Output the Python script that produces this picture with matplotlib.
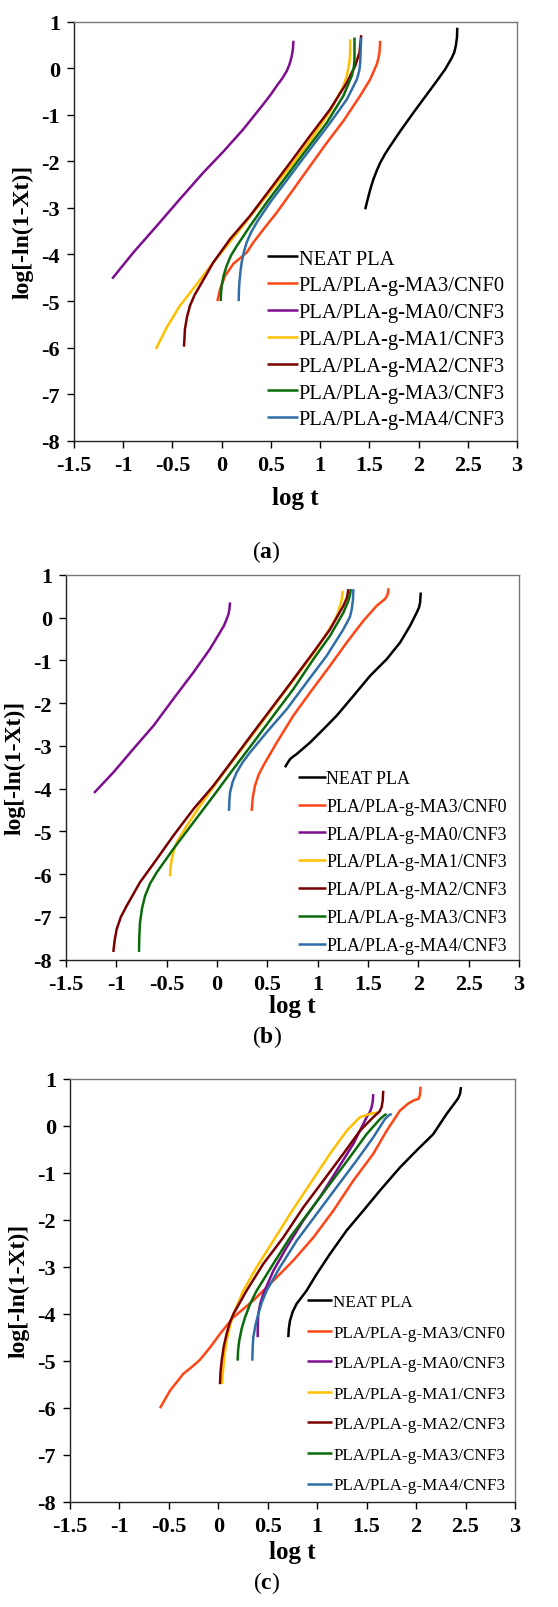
import matplotlib
matplotlib.use("Agg")
import matplotlib.pyplot as plt

plt.rcParams["font.family"] = ["Liberation Serif", "DejaVu Serif"]
plt.rcParams["mathtext.fontset"] = "custom"
plt.rcParams["mathtext.rm"] = "Liberation Serif"
plt.rcParams["mathtext.bf"] = "Liberation Serif:bold"

LABELS = ["NEAT PLA", "PLA/PLA-g-MA3/CNF0", "PLA/PLA-g-MA0/CNF3", "PLA/PLA-g-MA1/CNF3",
          "PLA/PLA-g-MA2/CNF3", "PLA/PLA-g-MA3/CNF3", "PLA/PLA-g-MA4/CNF3"]
COLORS = ["#000000", "#ff4516", "#7d0f8f", "#ffc000", "#7a0000", "#0b6b0b", "#2f6ea6"]

# ---- (a) ----
a_neat_x = [1.458, 1.475, 1.492, 1.515, 1.542, 1.575, 1.61, 1.66, 1.712, 1.814, 1.949, 2.085, 2.186, 2.271, 2.339, 2.362, 2.378, 2.39, 2.393]
a_neat_y = [-3.03, -2.88, -2.74, -2.56, -2.38, -2.20, -2.03, -1.84, -1.67, -1.35, -0.95, -0.56, -0.27, -0.02, 0.23, 0.34, 0.48, 0.66, 0.87]
a_ma3cnf0_x = [-0.044, -0.017, 0.034, 0.119, 0.254, 0.322, 0.424, 0.559, 0.729, 0.898, 1.068, 1.237, 1.407, 1.508, 1.576, 1.593, 1.603, 1.61]
a_ma3cnf0_y = [-5.0, -4.75, -4.46, -4.2, -3.96, -3.74, -3.46, -3.10, -2.60, -2.10, -1.60, -1.13, -0.59, -0.24, 0.09, 0.22, 0.34, 0.59]
a_ma0_x = [-1.112, -0.898, -0.661, -0.424, -0.186, 0.017, 0.220, 0.424, 0.50, 0.559, 0.615, 0.661, 0.69, 0.712, 0.724, 0.729]
a_ma0_y = [-4.52, -3.96, -3.39, -2.81, -2.24, -1.79, -1.31, -0.77, -0.56, -0.38, -0.22, -0.06, 0.09, 0.26, 0.42, 0.59]
a_ma1_x = [-0.668, -0.559, -0.424, -0.254, -0.085, 0.119, 0.322, 0.525, 0.729, 0.932, 1.102, 1.237, 1.268, 1.288, 1.30, 1.305, 1.305]
a_ma1_y = [-6.03, -5.57, -5.10, -4.64, -4.17, -3.64, -3.10, -2.56, -2.03, -1.45, -0.92, -0.38, -0.18, 0.01, 0.18, 0.34, 0.62]
a_ma2_x = [-0.383, -0.378, -0.373, -0.352, -0.322, -0.275, -0.220, -0.085, 0.085, 0.288, 0.492, 0.695, 0.898, 1.102, 1.271, 1.356, 1.4, 1.417]
a_ma2_y = [-5.98, -5.80, -5.60, -5.34, -5.10, -4.87, -4.67, -4.17, -3.67, -3.17, -2.60, -2.03, -1.45, -0.88, -0.31, 0.05, 0.34, 0.71]
a_ma3_x = [-0.01, -0.007, 0.0, 0.02, 0.051, 0.095, 0.153, 0.288, 0.458, 0.661, 0.864, 1.068, 1.237, 1.322, 1.342, 1.349, 1.349]
a_ma3_y = [-5.0, -4.85, -4.67, -4.45, -4.24, -4.02, -3.82, -3.39, -2.88, -2.31, -1.74, -1.17, -0.59, -0.16, 0.02, 0.19, 0.66]
a_ma4_x = [0.173, 0.175, 0.18, 0.19, 0.203, 0.225, 0.254, 0.30, 0.356, 0.492, 0.695, 0.898, 1.102, 1.271, 1.373, 1.398, 1.407, 1.417]
a_ma4_y = [-5.0, -4.80, -4.60, -4.38, -4.17, -3.95, -3.74, -3.52, -3.31, -2.88, -2.31, -1.74, -1.17, -0.67, -0.24, -0.05, 0.12, 0.66]

# ---- (b) ----
b_neat_x = [0.675, 0.70, 0.725, 0.755, 0.791, 0.924, 1.056, 1.189, 1.354, 1.52, 1.685, 1.818, 1.917, 1.983, 2.006, 2.017, 2.023]
b_neat_y = [-3.50, -3.40, -3.31, -3.25, -3.19, -2.92, -2.61, -2.29, -1.83, -1.36, -0.97, -0.58, -0.19, 0.12, 0.24, 0.36, 0.59]
b_ma3cnf0_x = [0.344, 0.355, 0.377, 0.412, 0.46, 0.593, 0.758, 0.924, 1.123, 1.288, 1.454, 1.586, 1.669, 1.69, 1.698, 1.702]
b_ma3cnf0_y = [-4.52, -4.20, -3.93, -3.68, -3.46, -2.92, -2.29, -1.75, -1.12, -0.58, -0.07, 0.28, 0.44, 0.52, 0.59, 0.69]
b_ma0_x = [-1.222, -1.03, -0.831, -0.632, -0.434, -0.235, -0.07, 0.03, 0.07, 0.096, 0.113, 0.123, 0.129]
b_ma0_y = [-4.10, -3.62, -3.07, -2.53, -1.90, -1.28, -0.73, -0.34, -0.18, -0.03, 0.08, 0.20, 0.36]
b_ma1_x = [-0.467, -0.462, -0.45, -0.43, -0.401, -0.301, -0.169, -0.003, 0.195, 0.394, 0.593, 0.791, 0.99, 1.156, 1.195, 1.222, 1.24, 1.248]
b_ma1_y = [-6.05, -5.85, -5.65, -5.45, -5.26, -4.87, -4.40, -3.85, -3.23, -2.61, -1.98, -1.36, -0.73, -0.11, 0.08, 0.28, 0.45, 0.63]
b_ma2_x = [-1.03, -1.017, -0.997, -0.955, -0.897, -0.765, -0.599, -0.434, -0.235, -0.036, 0.162, 0.361, 0.56, 0.758, 0.957, 1.123, 1.255, 1.29, 1.305]
b_ma2_y = [-7.82, -7.55, -7.29, -7.00, -6.74, -6.19, -5.65, -5.10, -4.48, -3.93, -3.31, -2.68, -2.06, -1.44, -0.81, -0.27, 0.28, 0.47, 0.67]
b_ma3_x = [-0.775, -0.772, -0.765, -0.745, -0.715, -0.665, -0.599, -0.434, -0.235, -0.036, 0.162, 0.361, 0.56, 0.758, 0.957, 1.123, 1.255, 1.305, 1.322, 1.328]
b_ma3_y = [-7.82, -7.45, -7.13, -6.80, -6.51, -6.22, -5.96, -5.41, -4.79, -4.17, -3.54, -2.92, -2.29, -1.67, -0.97, -0.42, 0.12, 0.40, 0.55, 0.67]
b_ma4_x = [0.119, 0.122, 0.129, 0.155, 0.195, 0.255, 0.328, 0.493, 0.692, 0.891, 1.089, 1.255, 1.32, 1.338, 1.35, 1.354]
b_ma4_y = [-4.52, -4.30, -4.09, -3.84, -3.62, -3.38, -3.15, -2.68, -2.14, -1.51, -0.89, -0.27, 0.02, 0.20, 0.42, 0.67]

# ---- (c) ----
c_neat_x = [0.708, 0.713, 0.725, 0.752, 0.792, 0.893, 0.994, 1.129, 1.298, 1.466, 1.635, 1.837, 2.005, 2.174, 2.309, 2.38, 2.425, 2.445, 2.454]
c_neat_y = [-4.50, -4.32, -4.15, -3.96, -3.79, -3.51, -3.16, -2.73, -2.23, -1.81, -1.38, -0.89, -0.53, -0.18, 0.25, 0.45, 0.58, 0.68, 0.82]
c_ma3cnf0_x = [-0.59, -0.489, -0.354, -0.26, -0.185, -0.084, 0.017, 0.152, 0.354, 0.556, 0.758, 0.961, 1.163, 1.365, 1.567, 1.702, 1.837, 1.92, 1.98, 2.025, 2.038, 2.046]
c_ma3cnf0_y = [-6.01, -5.64, -5.28, -5.12, -4.98, -4.72, -4.43, -4.08, -3.72, -3.30, -2.87, -2.38, -1.81, -1.17, -0.60, -0.11, 0.32, 0.47, 0.54, 0.57, 0.64, 0.83]
c_ma0_x = [0.398, 0.399, 0.404, 0.425, 0.455, 0.556, 0.691, 0.859, 1.028, 1.196, 1.365, 1.5, 1.535, 1.55, 1.562, 1.567]
c_ma0_y = [-4.50, -4.25, -4.01, -3.78, -3.58, -3.09, -2.59, -2.02, -1.52, -0.96, -0.39, 0.18, 0.30, 0.39, 0.52, 0.67]
c_ma1_x = [0.037, 0.042, 0.051, 0.065, 0.084, 0.115, 0.152, 0.253, 0.388, 0.556, 0.725, 0.927, 1.129, 1.298, 1.432, 1.534, 1.618]
c_ma1_y = [-5.50, -5.32, -5.14, -4.85, -4.57, -4.28, -4.01, -3.51, -3.01, -2.45, -1.88, -1.24, -0.60, -0.11, 0.18, 0.25, 0.28]
c_ma2_x = [0.017, 0.022, 0.034, 0.055, 0.084, 0.115, 0.152, 0.286, 0.455, 0.657, 0.859, 1.062, 1.264, 1.432, 1.567, 1.63, 1.651, 1.662, 1.668]
c_ma2_y = [-5.50, -5.25, -5.0, -4.70, -4.43, -4.20, -4.01, -3.51, -2.94, -2.38, -1.74, -1.17, -0.60, -0.11, 0.18, 0.30, 0.39, 0.52, 0.74]
c_ma3_x = [0.195, 0.2, 0.212, 0.236, 0.27, 0.32, 0.388, 0.556, 0.725, 0.927, 1.129, 1.331, 1.5, 1.635, 1.68, 1.702]
c_ma3_y = [-5.0, -4.78, -4.57, -4.32, -4.08, -3.80, -3.51, -2.94, -2.38, -1.81, -1.24, -0.67, -0.18, 0.14, 0.22, 0.25]
c_ma4_x = [0.344, 0.347, 0.354, 0.375, 0.404, 0.44, 0.489, 0.624, 0.792, 0.994, 1.196, 1.399, 1.567, 1.685, 1.725, 1.753]
c_ma4_y = [-5.0, -4.75, -4.50, -4.25, -4.01, -3.76, -3.51, -3.01, -2.45, -1.88, -1.31, -0.74, -0.25, 0.14, 0.22, 0.25]

panels = [
    dict(rect=[0.1326, 0.7253, 0.794, 0.2606], tag="a", cap_y=0.6565, leg=(0.435, 0.457), leg_fs=14.8, lsp=0.36,
         xpad=8.5,
         series=[(a_neat_x, a_neat_y), (a_ma3cnf0_x, a_ma3cnf0_y), (a_ma0_x, a_ma0_y), (a_ma1_x, a_ma1_y),
                 (a_ma2_x, a_ma2_y), (a_ma3_x, a_ma3_y), (a_ma4_x, a_ma4_y)]),
    dict(rect=[0.1183, 0.4026, 0.812, 0.2392], tag="b", cap_y=0.3552, leg=(0.513, 0.493), leg_fs=13, lsp=0.6,
         xpad=0.5,
         series=[(b_neat_x, b_neat_y), (b_ma3cnf0_x, b_ma3cnf0_y), (b_ma0_x, b_ma0_y), (b_ma1_x, b_ma1_y),
                 (b_ma2_x, b_ma2_y), (b_ma3_x, b_ma3_y), (b_ma4_x, b_ma4_y)]),
    dict(rect=[0.1254, 0.0655, 0.7975, 0.2631], tag="c", cap_y=0.0155, leg=(0.532, 0.49), leg_fs=12.3, lsp=0.85,
         xpad=3.0,
         series=[(c_neat_x, c_neat_y), (c_ma3cnf0_x, c_ma3cnf0_y), (c_ma0_x, c_ma0_y), (c_ma1_x, c_ma1_y),
                 (c_ma2_x, c_ma2_y), (c_ma3_x, c_ma3_y), (c_ma4_x, c_ma4_y)]),
]

fig = plt.figure(figsize=(5.58, 16.08), dpi=100)

for p in panels:
    ax = fig.add_axes(p["rect"])
    for (xs, ys), lab, col in zip(p["series"], LABELS, COLORS):
        ax.plot(xs, ys, color=col, lw=1.8, label=lab, solid_capstyle="butt", solid_joinstyle="round")
    ax.set_xlim(-1.5, 3)
    ax.set_ylim(-8, 1)
    ax.set_xticks([-1.5, -1, -0.5, 0, 0.5, 1, 1.5, 2, 2.5, 3])
    ax.set_xticklabels(["-1.5", "-1", "-0.5", "0", "0.5", "1", "1.5", "2", "2.5", "3"])
    ax.set_yticks(range(-8, 2))
    ax.set_yticklabels([str(v) for v in range(-8, 2)])
    ax.tick_params(direction="out", length=5, width=1, labelsize=16, pad=5)
    for lbl in ax.get_xticklabels() + ax.get_yticklabels():
        lbl.set_fontweight("bold")
    for side in ["left", "bottom"]:
        ax.spines[side].set_color("#222222")
        ax.spines[side].set_linewidth(1.0)
    for side in ["top", "right"]:
        ax.spines[side].set_color("#777777")
        ax.spines[side].set_linewidth(1.0)
    ax.set_xlabel("log t", fontsize=18, fontweight="bold", labelpad=p["xpad"])
    ax.set_ylabel("log[-ln(1-Xt)]", fontsize=17, fontweight="bold", labelpad=6)
    ax.legend(loc="upper left", bbox_to_anchor=p["leg"], frameon=False, fontsize=p["leg_fs"],
              handlelength=1.5, handletextpad=0.05, labelspacing=p["lsp"], borderpad=0, borderaxespad=0)
    fig.text(0.478, p["cap_y"], r"($\mathbf{%s}$)" % p["tag"], fontsize=17, ha="center", va="center")

fig.savefig("out.png", dpi=100)
